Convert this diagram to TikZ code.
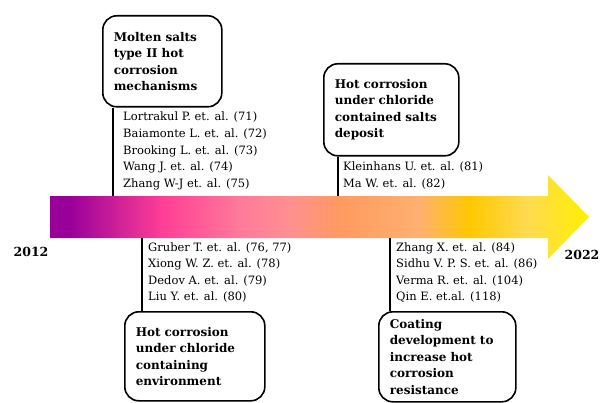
\documentclass[tikz,border=0pt]{standalone}
\usepackage{fontspec}
\setmainfont{DejaVu Serif}

\definecolor{tlpurple}{HTML}{990099}
\definecolor{tlmagenta}{HTML}{FF3E96}
\definecolor{tlpink}{HTML}{FF7A9A}
\definecolor{tlrose}{HTML}{FF9090}
\definecolor{tlorange}{HTML}{FF9A60}
\definecolor{tlpeach}{HTML}{FFB070}
\definecolor{tlgold}{HTML}{FFC800}
\definecolor{tllight}{HTML}{FFDA50}
\definecolor{tlyellow}{HTML}{FFF000}

\pgfdeclarehorizontalshading{timeline}{100bp}{color(0bp)=(tlpurple); color(26.8bp)=(tlpurple);
  color(35.4bp)=(tlmagenta); color(42.6bp)=(tlpink); color(47.3bp)=(tlrose);
  color(51.9bp)=(tlorange); color(59.2bp)=(tlpeach); color(63.9bp)=(tlgold);
  color(69.2bp)=(tllight); color(75bp)=(tlyellow); color(100bp)=(tlyellow)}

\begin{document}
\begin{tikzpicture}[x=1pt, y=-1pt,
	topic/.style={draw, line width=1.6pt, rounded corners=14pt, anchor=north west, align=left,
		inner xsep=11pt, font=\fontsize{12}{16.5}\selectfont\bfseries},
	ref/.style={anchor=base west, inner sep=0pt, font=\fontsize{11.5}{14}\selectfont},
	year/.style={anchor=base, inner sep=0pt, font=\fontsize{12.5}{14}\selectfont\bfseries},
	stem/.style={line width=1.6pt}]
	\useasboundingbox (0, 0) rectangle (601, 403);

	% the arrow
	\shade[shading=timeline] (50, 196) -- (548, 196) -- (548, 175) -- (589, 217)
		-- (548, 259) -- (548, 238) -- (50, 238) -- cycle;
	\coordinate (t1) at (113, 196);
	\coordinate (t2) at (338, 196);
	\coordinate (b1) at (142, 238);
	\coordinate (b2) at (390, 238);

	\node[year] (y2012) at (31, 256){2012};
	\node[year] (y2022) at (582, 259){2022};

	% above the arrow
	\node[topic, text width=97pt, minimum height=91pt] (molten) at (102, 15)
		{Molten salts\\type II hot\\corrosion\\mechanisms};
		\draw[stem] (t1 |- molten.south) to (t1);
		\node[ref] (r71) at (123, 121){Lortrakul P. et. al. (71)};
		\node[ref] (r72) at (123, 137.6){Baiamonte L. et. al. (72)};
		\node[ref] (r73) at (123, 154.2){Brooking L. et. al. (73)};
		\node[ref] (r74) at (123, 170.8){Wang J. et. al. (74)};
		\node[ref] (r75) at (123, 187.4){Zhang W-J et. al. (75)};

	\node[topic, text width=113pt, minimum height=92pt] (salts) at (323, 63)
		{Hot corrosion\\under chloride\\contained salts\\deposit};
		\draw[stem] (t2 |- salts.south) to (t2);
		\node[ref] (r81) at (343, 170.8){Kleinhans U. et. al. (81)};
		\node[ref] (r82) at (343, 187.4){Ma W. et. al. (82)};

	% below the arrow
	\node[topic, text width=118pt, minimum height=89pt] (environ) at (124, 311)
		{Hot corrosion\\under chloride\\containing\\environment};
		\draw[stem] (b1) to (b1 |- environ.north);
		\node[ref] (r76) at (148, 251){Gruber T. et. al. (76, 77)};
		\node[ref] (r78) at (148, 267.6){Xiong W. Z. et. al. (78)};
		\node[ref] (r79) at (148, 284.2){Dedov A. et. al. (79)};
		\node[ref] (r80) at (148, 300.8){Liu Y. et. al. (80)};

	\node[topic, text width=115pt, minimum height=90pt] (coating) at (378, 311)
		{Coating\\development to\\increase hot\\corrosion\\resistance};
		\draw[stem] (b2) to (b2 |- coating.north);
		\node[ref] (r84) at (396, 251){Zhang X. et. al. (84)};
		\node[ref] (r86) at (396, 267.6){Sidhu V. P. S. et. al. (86)};
		\node[ref] (r104) at (396, 284.2){Verma R. et. al. (104)};
		\node[ref] (r118) at (396, 300.8){Qin E. et.al. (118)};
\end{tikzpicture}
\end{document}
